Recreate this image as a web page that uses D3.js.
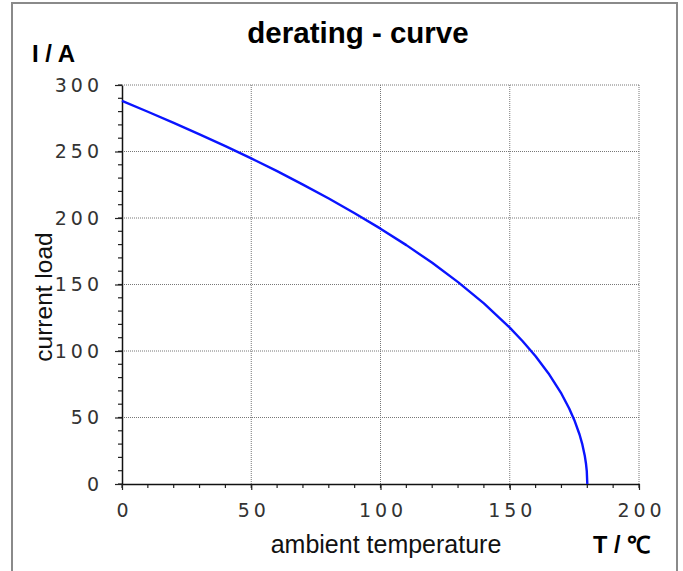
<!DOCTYPE html>
<html><head><meta charset="utf-8">
<script src="https://cdn.jsdelivr.net/npm/d3@7"></script>
<style>body{margin:0;background:#fff}svg{display:block}</style>
</head><body>
<script>
// Data: ambient temperature (°C) vs current load (A)
const temps   = [0, 10, 20, 30, 40, 50, 60, 70, 80, 90, 100, 110, 120, 130, 140, 150, 155, 160, 165, 170, 173, 175, 177, 178, 179, 179.5, 179.8, 180];
const current = [288, 279.9, 271.5, 262.9, 254.0, 244.8, 235.2, 225.1, 214.7, 203.6, 192.0, 179.6, 166.3, 151.8, 135.8, 117.6, 107.3, 96.0, 83.1, 67.9, 56.8, 48.0, 37.2, 30.4, 21.5, 15.2, 9.6, 0];
const xTicks = [0, 50, 100, 150, 200];
const yTicks = [0, 50, 100, 150, 200, 250, 300];
const xMinor = d3.range(0, 201, 10);
const yMinor = d3.range(0, 301, 10);

const W = 683, H = 571;
const m = {left: 122, right: 44, top: 85, bottom: 87};
const svg = d3.select("body").append("svg").attr("width", W).attr("height", H);

// frame
svg.append("rect").attr("x", 12).attr("y", 3).attr("width", 665).attr("height", H + 10)
  .attr("fill", "none").attr("stroke", "#8a8a8a").attr("stroke-width", 2);

const x = d3.scaleLinear().domain([0, 200]).range([m.left, W - m.right]);
const y = d3.scaleLinear().domain([0, 300]).range([H - m.bottom, m.top]);

const grid = svg.append("g").attr("stroke", "#777").attr("stroke-width", 1).attr("stroke-dasharray", "1,1");
grid.selectAll("line.v").data(xTicks.slice(1)).join("line")
  .attr("x1", d => x(d)).attr("x2", d => x(d)).attr("y1", y(0)).attr("y2", y(300));
grid.selectAll("line.h").data(yTicks.slice(1)).join("line")
  .attr("y1", d => y(d)).attr("y2", d => y(d)).attr("x1", x(0)).attr("x2", x(200));

// minor ticks
const tk = svg.append("g").attr("stroke", "#222").attr("stroke-width", 1.2);
tk.selectAll("line.ym").data(yMinor).join("line")
  .attr("x1", x(0) - 4).attr("x2", x(0)).attr("y1", d => y(d)).attr("y2", d => y(d));
tk.selectAll("line.xm").data(xMinor).join("line")
  .attr("y1", y(0)).attr("y2", y(0) + 4).attr("x1", d => x(d)).attr("x2", d => x(d));

// axes
const fontNum = "'DejaVu Sans', Verdana, sans-serif";
const yAxis = svg.append("g").attr("transform", `translate(${x(0)},0)`)
  .call(d3.axisLeft(y).tickValues(yTicks).tickSize(7).tickPadding(16).tickSizeOuter(0));
const xAxis = svg.append("g").attr("transform", `translate(0,${y(0)})`)
  .call(d3.axisBottom(x).tickValues(xTicks).tickSize(6).tickPadding(14).tickSizeOuter(0));
[yAxis, xAxis].forEach(a => {
  a.select(".domain").attr("stroke", "#111").attr("stroke-width", 1.5);
  a.selectAll(".tick line").attr("stroke", "#222").attr("stroke-width", 1.2);
  a.selectAll("text").attr("fill", "#333").attr("font-family", fontNum).attr("font-size", 19)
    .style("font-family", fontNum).style("font-size", "19px").style("letter-spacing", "4px");
});
yAxis.selectAll("text").attr("dx", "4px");
xAxis.selectAll("text").attr("dx", "2px");

// curve
const pts = temps.map((t, i) => [t, current[i]]);
svg.append("path").datum(pts)
  .attr("fill", "none").attr("stroke", "#0a14ff").attr("stroke-width", 2.4)
  .attr("stroke-linejoin", "round")
  .attr("d", d3.line().x(d => x(d[0])).y(d => y(d[1])));

// texts
const sans = "'Liberation Sans', Arial, sans-serif";
svg.append("text").attr("x", 358).attr("y", 43).attr("text-anchor", "middle")
  .style("font-family", sans).style("font-weight", "bold").style("font-size", "29.5px").text("derating - curve");
svg.append("text").attr("x", 32).attr("y", 62)
  .style("font-family", sans).style("font-weight", "bold").style("font-size", "24px").text("I / A");
svg.append("text").attr("transform", "translate(52,297) rotate(-90)").attr("text-anchor", "middle")
  .style("font-family", sans).style("font-size", "24.5px").attr("fill", "#111").text("current load");
svg.append("text").attr("x", 386).attr("y", 553).attr("text-anchor", "middle")
  .style("font-family", sans).style("font-size", "25px").attr("fill", "#111").text("ambient temperature");
svg.append("text").attr("x", 593).attr("y", 553)
  .style("font-family", sans).style("font-weight", "bold").style("font-size", "23.5px").text("T / ℃");
</script>
</body></html>
